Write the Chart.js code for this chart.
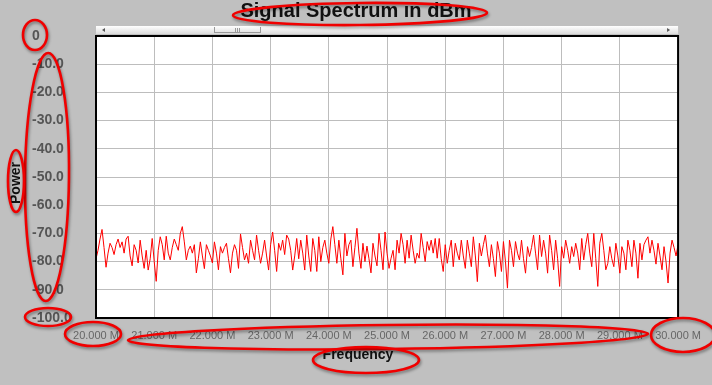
<!DOCTYPE html>
<html>
<head>
<meta charset="utf-8">
<script src="https://cdn.jsdelivr.net/npm/chart.js@4"></script>
<style>
  html, body { margin: 0; padding: 0; background: #c0c0c0; }
  #wrap { width: 712px; height: 385px; }
</style>
</head>
<body>
<div id="wrap"><canvas id="canvas" width="712" height="385"></canvas></div>
<script>
// sweep 20 MHz .. 30 MHz, power in dBm
const freqStartMHz = 20;
const freqStopMHz = 30;
const freqTicks = [20, 21, 22, 23, 24, 25, 26, 27, 28, 29, 30];
const powerTicks = [0, -10, -20, -30, -40, -50, -60, -70, -80, -90, -100];

const powerDbm = [
  -79, -76, -72, -68.6, -75, -82, -77, -73.5, -75, -77.5, -74, -72, -75, -73, -77, -72,
  -71, -78, -81.5, -74, -76, -80.5, -72.4, -78, -82.4, -76, -83, -79, -71.8, -80, -87, -76,
  -71.2, -74, -79.4, -71, -77, -79.4, -75, -72, -74, -76, -70, -67.6, -73, -79.4, -76, -74.5,
  -77, -74, -84, -79, -73, -78, -82.5, -74, -76, -78, -80.5, -73, -77, -82.9, -74.7, -77,
  -75, -73.5, -79, -84, -77, -74, -76, -82.4, -70.2, -75, -79.4, -77, -80.6, -72.4, -76, -79.4,
  -70.6, -76, -80.6, -77, -72.4, -78, -83, -74, -69.5, -76, -83.5, -73.5, -76, -72.4, -77.5, -70.6,
  -72, -76, -83, -78, -71.8, -79, -72.4, -77, -83, -70.6, -78, -83.5, -71.8, -76, -83.5, -71.2,
  -80, -75, -72.4, -77, -80.6, -72, -67.6, -74, -80.6, -72.4, -79, -84.7, -70, -78, -74, -72.4,
  -81.8, -75, -68.2, -77, -82.4, -73.5, -80, -74.5, -79, -84, -73.5, -78, -81.5, -70, -76, -82.9,
  -69.5, -77, -82.4, -78.8, -76, -82.9, -72.4, -77, -70, -74, -80.6, -72.4, -78.8, -70.6, -76, -80.6,
  -77, -78.8, -70, -75, -80, -72.9, -76, -72.4, -77, -71.8, -78.8, -71.8, -79, -83.5, -74, -80.6,
  -76, -72.4, -81.8, -73.5, -77, -79.4, -72.4, -78, -82.4, -72.4, -77, -81.8, -71.2, -78, -87.1, -73.5,
  -78, -74, -70.6, -77, -81.8, -74, -79, -85.3, -72.9, -77, -83.5, -72.9, -80, -89.4, -72.4, -76,
  -81.8, -72.9, -77, -79.4, -72.4, -79, -84.1, -74.7, -78.2, -75, -70.6, -77, -82.9, -70.6, -78.2, -72.4,
  -77, -84.1, -70.6, -76, -82.9, -72.4, -79, -88.8, -74.7, -78.8, -72.4, -76, -80.6, -74.7, -78.2, -73.5,
  -77, -82.9, -71.8, -79.4, -74, -70, -77, -81.8, -70, -79, -88.8, -73.5, -70, -76, -82.9, -80.6,
  -74.7, -79, -81.8, -73.5, -78, -84.1, -74.7, -77, -82.9, -72.4, -76, -81.8, -72.4, -77, -85.9, -73.5,
  -79.4, -74, -72.4, -71.2, -77, -72.4, -76, -80.9, -73.5, -78, -82.9, -74.7, -80, -87.6, -77, -72.4,
  -75, -78, -74
];

const points = powerDbm.map((p, i) => ({
  x: freqStartMHz + i * (freqStopMHz - freqStartMHz) / (powerDbm.length - 1),
  y: p
}));

const FONT = 'Liberation Sans, Arial, sans-serif';

// gray page, white plot, black frame, scroll strip, axis names and red marker rings
const frame = {
  id: 'frame',
  beforeDraw(chart) {
    const { ctx, chartArea: a } = chart;
    ctx.save();
    ctx.fillStyle = '#c0c0c0';
    ctx.fillRect(0, 0, chart.width, chart.height);
    ctx.fillStyle = '#ffffff';
    ctx.fillRect(a.left, a.top, a.right - a.left, a.bottom - a.top);
    ctx.restore();
  },
  afterDatasetsDraw(chart) {
    const { ctx, chartArea: a } = chart;
    ctx.save();
    ctx.strokeStyle = '#000';
    ctx.lineWidth = 2;
    ctx.strokeRect(a.left, a.top, a.right - a.left, a.bottom - a.top);
    ctx.restore();
  },
  afterDraw(chart) {
    const { ctx, chartArea: a } = chart;
    ctx.save();

    // scroll strip above the plot
    const sy = a.top - 10, sh = 8;
    const g = ctx.createLinearGradient(0, sy, 0, sy + sh);
    g.addColorStop(0, '#ffffff');
    g.addColorStop(1, '#dcdcdc');
    ctx.fillStyle = g;
    ctx.fillRect(a.left, sy, a.right - a.left, sh);
    ctx.fillStyle = '#555';
    ctx.beginPath();
    ctx.moveTo(a.left + 6, sy + 4); ctx.lineTo(a.left + 9, sy + 2); ctx.lineTo(a.left + 9, sy + 6);
    ctx.fill();
    ctx.beginPath();
    ctx.moveTo(a.right - 8, sy + 4); ctx.lineTo(a.right - 11, sy + 2); ctx.lineTo(a.right - 11, sy + 6);
    ctx.fill();
    const tx = a.left + 118, tw = 46;
    ctx.strokeStyle = '#999';
    ctx.lineWidth = 1;
    ctx.beginPath();
    ctx.moveTo(tx + 0.5, sy + 1); ctx.lineTo(tx + 0.5, sy + sh - 1);
    ctx.moveTo(tx + tw + 0.5, sy + 1); ctx.lineTo(tx + tw + 0.5, sy + sh - 1);
    ctx.moveTo(tx, sy + sh - 1.5); ctx.lineTo(tx + tw, sy + sh - 1.5);
    for (let k = 0; k < 3; k++) {
      ctx.moveTo(tx + 21.5 + k * 2, sy + 2); ctx.lineTo(tx + 21.5 + k * 2, sy + 6);
    }
    ctx.stroke();

    // axis names
    ctx.fillStyle = '#111';
    ctx.font = 'bold 14px ' + FONT;
    ctx.textAlign = 'center';
    ctx.textBaseline = 'middle';
    ctx.fillText('Frequency', chart.width / 2 + 2, 355);
    ctx.translate(16, 183);
    ctx.rotate(-Math.PI / 2);
    ctx.fillText('Power', 0, 0);
    ctx.restore();

    // red rings
    const rings = [
      [360, 14, 127, 11, -0.01],
      [35, 35, 12, 15, 0],
      [47, 177, 22, 124, 0.01],
      [16, 181, 8, 31, 0],
      [48, 317, 23, 9, 0],
      [93, 334, 28, 12, 0],
      [388, 337, 260, 12, -0.012],
      [683, 335, 32, 17, 0],
      [366, 360, 53, 13, 0]
    ];
    ctx.save();
    ctx.strokeStyle = '#f00000';
    ctx.lineWidth = 2.6;
    ctx.shadowColor = 'rgba(0,0,0,0.4)';
    ctx.shadowBlur = 3;
    ctx.shadowOffsetX = 1;
    ctx.shadowOffsetY = 2;
    rings.forEach(([cx, cy, rx, ry, rot]) => {
      ctx.beginPath();
      ctx.ellipse(cx, cy, rx, ry, rot, 0, Math.PI * 2);
      ctx.stroke();
    });
    ctx.restore();
  }
};

const ctx = document.getElementById('canvas').getContext('2d');
const myChart = new Chart(ctx, {
  type: 'line',
  data: {
    datasets: [{
      data: points,
      borderColor: '#ff0000',
      borderWidth: 1,
      pointRadius: 0,
      tension: 0
    }]
  },
  options: {
    responsive: false,
    animation: false,
    layout: { padding: { left: 32, right: 32, top: 0, bottom: 0 } },
    plugins: {
      legend: { display: false },
      tooltip: { enabled: false },
      title: {
        display: true,
        text: 'Signal Spectrum in dBm',
        color: '#111',
        font: { family: FONT, size: 20, weight: 'bold', lineHeight: 1.1 },
        padding: { top: 0, bottom: 14 }
      }
    },
    scales: {
      x: {
        type: 'linear',
        min: freqStartMHz,
        max: freqStopMHz,
        afterBuildTicks: s => { s.ticks = freqTicks.map(v => ({ value: v })); },
        afterFit: s => { s.height = 67; },
        border: { display: false },
        grid: { color: '#bdbdbd', lineWidth: 1, drawTicks: false },
        ticks: {
          padding: 11,
          maxRotation: 0,
          autoSkip: false,
          color: '#666',
          font: { family: FONT, size: 11 },
          callback: v => v.toFixed(3) + ' M'
        }
      },
      y: {
        min: -100,
        max: 0,
        afterBuildTicks: s => { s.ticks = powerTicks.map(v => ({ value: v })); },
        afterFit: s => { s.width = 64; },
        border: { display: false },
        grid: { color: '#bdbdbd', lineWidth: 1, drawTicks: false },
        ticks: {
          crossAlign: 'far',
          autoSkip: false,
          color: '#555',
          font: { family: FONT, size: 14, weight: 'bold' },
          callback: v => v === 0 ? '0' : v.toFixed(1)
        }
      }
    }
  },
  plugins: [frame]
});
</script>
</body>
</html>
